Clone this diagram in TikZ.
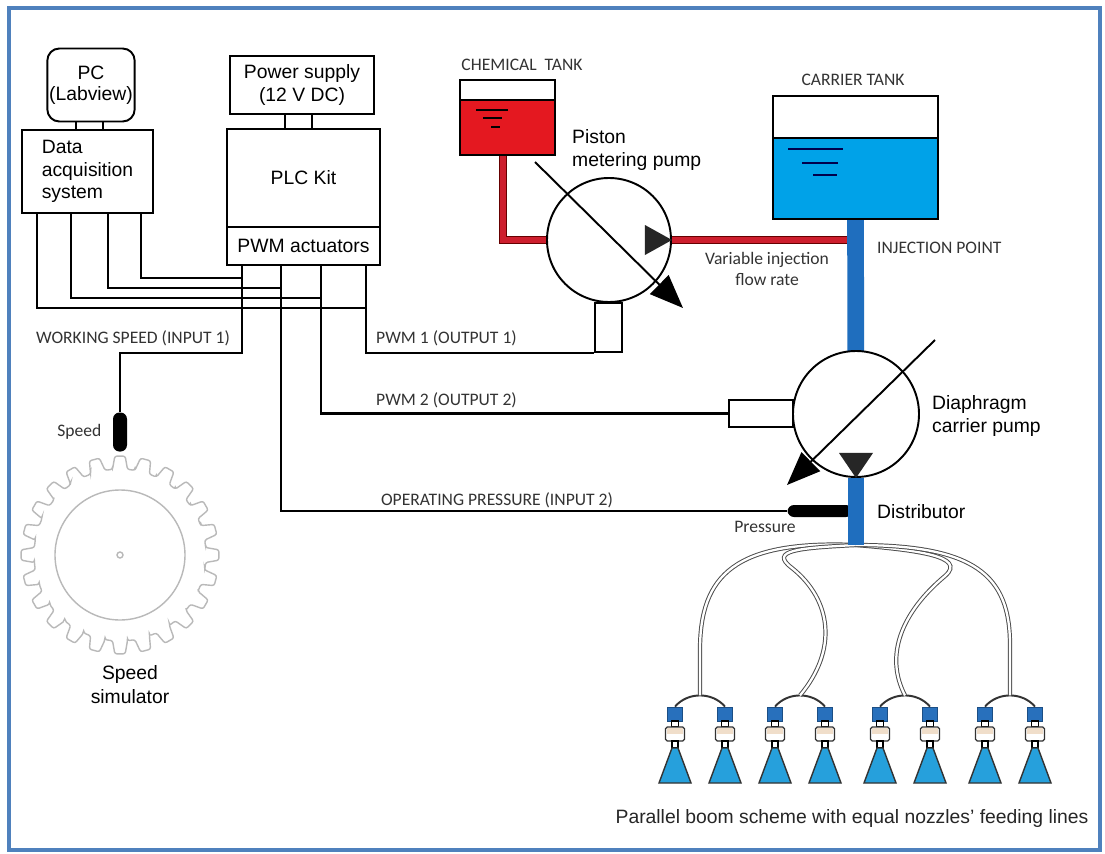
\documentclass[tikz,border=0pt]{standalone}
\usepackage{fontspec}
\setmainfont{Liberation Sans}
\newfontfamily\labelfont{Carlito}
\usepackage{tikz}
\usetikzlibrary{arrows.meta,positioning,calc}

\definecolor{frameblue}{RGB}{79,129,189}
\definecolor{chemred}{RGB}{228,24,32}
\definecolor{pipered}{RGB}{205,30,45}
\definecolor{waterblue}{RGB}{0,162,232}
\definecolor{pipeblue}{RGB}{31,110,190}
\definecolor{headblue}{RGB}{40,112,188}
\definecolor{coneblue}{RGB}{38,160,220}
\definecolor{fittan}{RGB}{240,222,202}
\definecolor{geargray}{RGB}{185,185,185}

\begin{document}
\begin{tikzpicture}[
    x=0.2mm, y=-0.2mm,
    font=\fontsize{11}{13}\selectfont,
    block/.style={
        draw,
        rectangle,
        line width=1.1pt,
        fill=white,
        align=center,
        inner sep=1pt
    },
    wire/.style={line width=1.5pt},
    tag/.style={font=\labelfont\fontsize{10}{12}\selectfont, text=black!80},
    tank/.style 2 args={
        draw,
        line width=1.3pt,
        path picture={
            \fill[#1] ([yshift=-#2]path picture bounding box.north west)
                rectangle (path picture bounding box.south east);
            \draw[line width=1.3pt] ([yshift=-#2]path picture bounding box.north west)
                -- ([yshift=-#2]path picture bounding box.north east);
        }
    },
    pump/.style={draw, circle, line width=1.1pt, fill=white, inner sep=0pt},
    redpipe/.style={draw=black!60!red, double=pipered, double distance=3.4pt, line width=0.8pt},
    bluepipe/.style={draw=pipeblue, line width=9.5pt},
    sensor/.style={fill=black, rounded corners=1.3mm, inner sep=0pt},
    gearline/.style={draw=geargray, line width=0.8pt, rounded corners=1.2pt},
    nozhead/.style={fill=headblue, draw=headblue!70!black, line width=0.4pt,
        minimum width=3mm, minimum height=2.8mm, inner sep=0pt},
    manifold/.style={draw=black!80, line width=1.1pt},
    feedline/.style={draw=black!70, double=white, double distance=1.3pt, line width=0.55pt},
    tilt/.style={line width=1.1pt, -{Triangle[length=19pt,width=15pt]}}
]

\useasboundingbox (0,0) rectangle (1105,854);
\fill[white] (0,0) rectangle (1105,854);
\draw[frameblue, line width=2.3pt] (9,8) rectangle (1100,850);

% Control side: PC, acquisition, power and PLC
\node[block, rounded corners=2.4mm, minimum width=16.8mm, minimum height=14.6mm,
    font=\fontsize{11}{12}\selectfont] at (91,85) (pc) {PC\\(Labview)};
\node[block, minimum width=26.2mm, minimum height=16.6mm, align=left]
    at (87.5,171.5) (daq) {Data\\acquisition\\system};
\node[block, minimum width=28.8mm, minimum height=11.6mm] at (302,85) (psu) {Power supply\\(12 V DC)};
\node[block, minimum width=30.6mm, minimum height=19.6mm] at (303.5,178) (plc) {PLC Kit};
\node[block, minimum width=30.6mm, minimum height=7.6mm] at (303.5,246) (pwm) {PWM actuators};

\draw[wire] (76,0 |- pc.south) -- (76,0 |- daq.north);
\draw[wire] (103,0 |- pc.south) -- (103,0 |- daq.north);
\draw[wire] (285,0 |- psu.south) -- (285,0 |- plc.north);
\draw[wire] (312,0 |- psu.south) -- (312,0 |- plc.north);

% Tanks
\node[tag] at (522,65) {CHEMICAL\ \ TANK};
\node[tank={chemred}{4mm}, minimum width=19mm, minimum height=15mm] at (507.5,117.5) (ctank) {};
\draw[line width=1.3pt] (476,110) -- (508,110) (483,118) -- (502,118) (491,127) -- (500,127);

\node[tag] at (853,80) {CARRIER TANK};
\node[tank={waterblue}{8.4mm}, minimum width=33mm, minimum height=24.6mm] at (855.5,157.5) (ktank) {};
\draw[line width=1.3pt, blue!30!black] (788,149) -- (843,149) (802,163) -- (838,163) (813,175) -- (837,175);

% Pumps and piping
\coordinate (inj) at (856,240);
\coordinate (dist) at (856,545);

\draw[redpipe] (503,0 |- ctank.south) |- (609,240);
\draw[redpipe] (609,240) -- (inj);
\draw[bluepipe] (ktank.south) -- (856,414);

\node[pump, minimum size=24.8mm] at (609,240) (ppump) {};
\node[pump, minimum size=25.2mm] at (856,414) (dpump) {};

\fill[black!85] (ppump.east) -- ++(-27,-15) -- ++(0,30) -- cycle;
\draw[tilt] ($(ppump)+(-74,-78)$) -- ($(ppump)+(74,68)$);
\node[block, minimum width=5.4mm, minimum height=9.8mm] at (608.5,327.5) (sol1) {};

\node[block, minimum width=12.8mm, minimum height=5.4mm] at (761,413.5) (sol2) {};

\node[anchor=west, align=left, font=\fontsize{11}{13.6}\selectfont] at (566,150) {Piston\\metering pump};
\node[tag, align=center] at (767,269) {Variable injection\\flow rate};
\node[tag, anchor=west] at (871,248) {INJECTION POINT};
\node[anchor=west, align=left, font=\fontsize{11}{12.6}\selectfont] at (926,416) {Diaphragm\\carrier pump};

% Boom feeding lines
\foreach \nx [count=\i] in {675,725,775,825,880,930,985,1035} {
    \node[nozhead] (noz\i) at (\nx,714) {};
    \draw[line width=0.6pt, fill=white] (\nx-3.5,721) rectangle (\nx+3.5,727);
    \filldraw[fill=white, draw=black!80, line width=0.7pt, rounded corners=1pt] (\nx-9.5,727) rectangle (\nx+9.5,741);
    \fill[fittan] (\nx-8.3,728.2) rectangle (\nx+8.3,733.5);
    \draw[line width=0.6pt, fill=white] (\nx-3,741) rectangle (\nx+3,748);
    \filldraw[fill=coneblue, draw=black!80, line width=0.8pt]
        (\nx-3,748) -- (\nx+3,748) -- (\nx+16,783) -- (\nx-16,783) -- cycle;
}
\foreach \a/\b/\p in {1/2/1,3/4/2,5/6/3,7/8/4}
    \draw[manifold] (noz\a.north) to[bend left=50] coordinate[pos=.5] (feed\p) (noz\b.north);

\draw[feedline] (dist) .. controls (735,540) and (700,575) .. (700,650) -- (feed1);
\draw[feedline] (dist) .. controls (800,548) and (768,550) .. (792,568)
    .. controls (832,600) and (838,650) .. (feed2);
\draw[feedline] (dist) .. controls (915,550) and (968,556) .. (945,576)
    .. controls (902,612) and (884,655) .. (feed3);
\draw[feedline] (dist) .. controls (975,545) and (1010,575) .. (1010,645) -- (feed4);

\node[sensor, minimum width=13mm, minimum height=2.4mm] at (820,511) (psens) {};
\draw[bluepipe] (dpump.south) -- (dist);

\fill[black!85] (dpump.south) -- ++(-17,-25) -- ++(34,0) -- cycle;
\draw[tilt] ($(dpump)+(79,-74)$) -- ($(dpump)+(-69,71)$);

\node[anchor=west] at (871,512) {Distributor};
\node[tag] at (765,527) {Pressure};

% Speed simulator
\coordinate (simc) at (120,555);
\begin{scope}[shift={(simc)}]
    \draw[gearline] (-5:86) \foreach \k in {0,15,...,345} {
        -- (\k-5:86) -- (\k-3:99) -- (\k+3:99) -- (\k+5:86) -- (\k+10:86)} -- cycle;
\end{scope}
\draw[geargray, line width=0.8pt] (simc) circle (65);
\draw[geargray, line width=0.8pt] (simc) circle (3);
\node[sensor, minimum width=2.8mm, minimum height=7.8mm] at (120,432) (ssens) {};
\node[tag, left=1mm of ssens] {Speed};
\node[align=center, font=\fontsize{11}{13.6}\selectfont] at (130,685) {Speed\\simulator};

% Signal wiring
\coordinate (j1) at (366,308);
\coordinate (j2) at (321,298);
\coordinate (j3) at (281,288);
\coordinate (j4) at (242,278);

\draw[wire] (37,0 |- daq.south) |- (j1);
\draw[wire] (71,0 |- daq.south) |- (j2);
\draw[wire] (108,0 |- daq.south) |- (j3);
\draw[wire] (141,0 |- daq.south) |- (j4);

\draw[wire] (j1 |- pwm.south) |- (sol1.south west);
\draw[wire] (j2 |- pwm.south) |- (sol2.west);
\draw[wire] (j3 |- pwm.south) |- (psens.west);
\draw[wire] (j4 |- pwm.south) -- (j4 |- 0,353) -| (ssens.north);

\node[tag] at (133,338) {WORKING SPEED (INPUT 1)};
\node[tag, anchor=west] at (370,338) {PWM 1 (OUTPUT 1)};
\node[tag, anchor=west] at (370,400) {PWM 2 (OUTPUT 2)};
\node[tag] at (497,500) {OPERATING PRESSURE (INPUT 2)};

% Caption
\node[text=black!85] at (852,818) {Parallel boom scheme with equal nozzles' feeding lines};

\end{tikzpicture}
\end{document}
